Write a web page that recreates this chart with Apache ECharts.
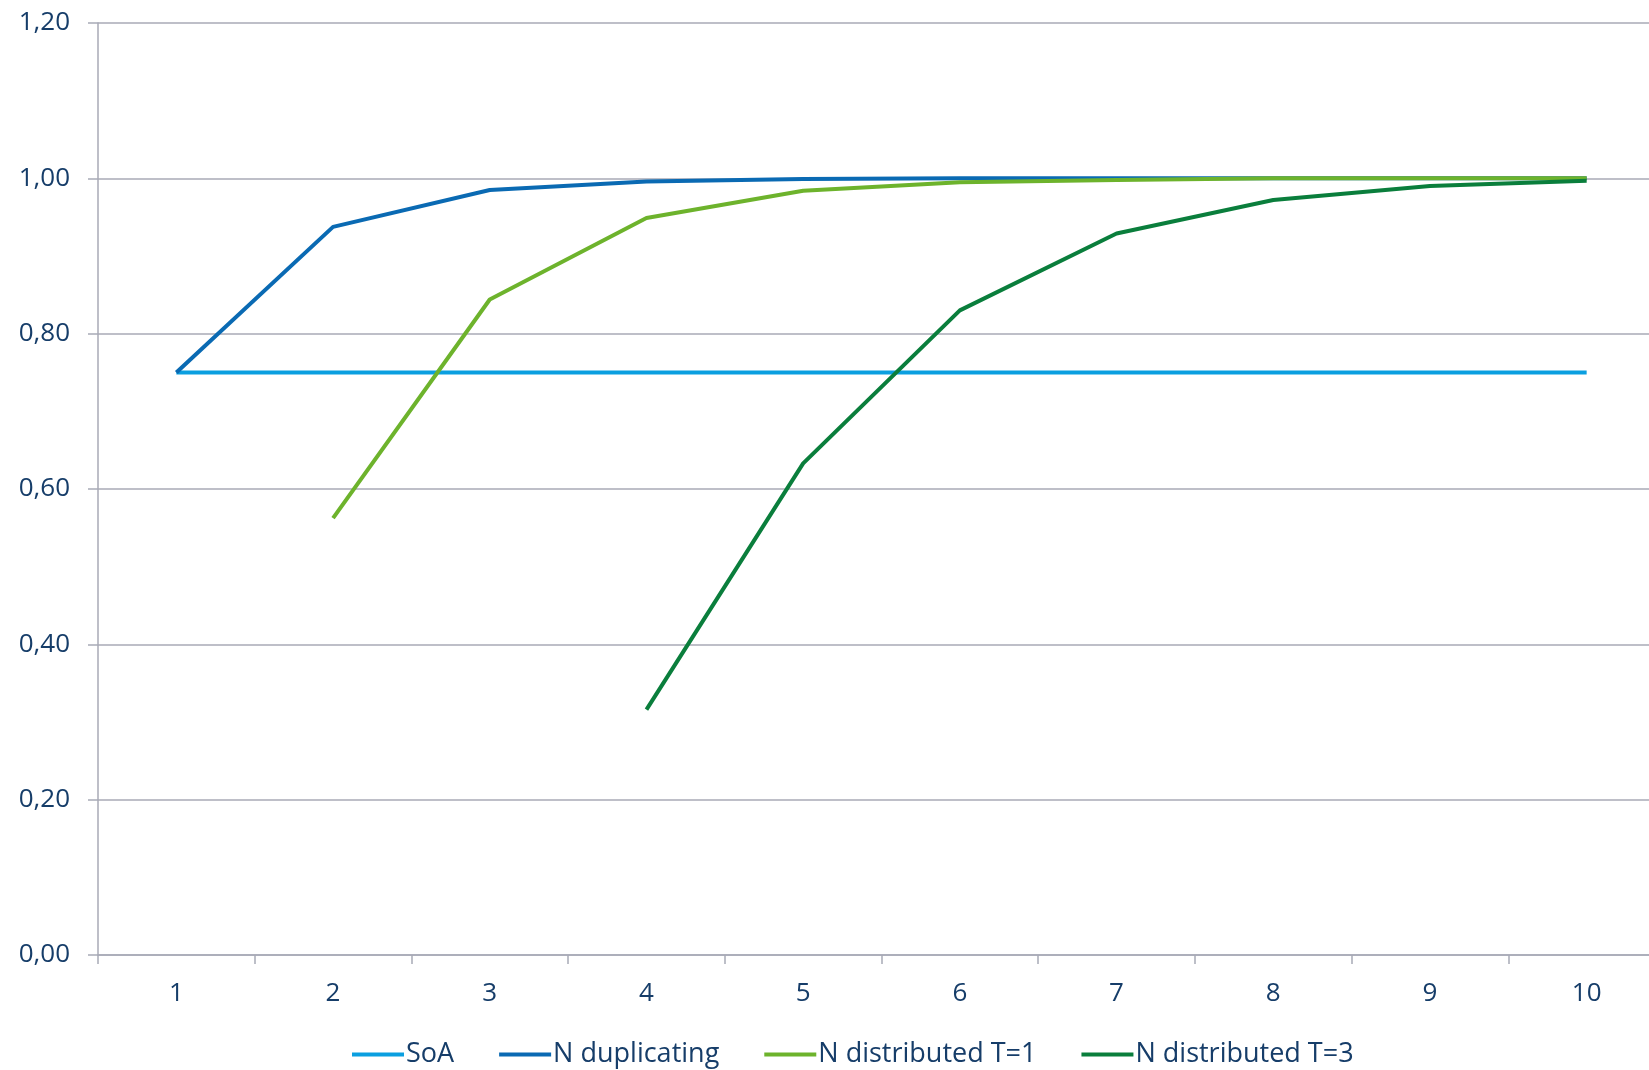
<!DOCTYPE html>
<html>
<head>
<meta charset="utf-8">
<title>Ratio by N</title>
<script src="https://cdn.jsdelivr.net/npm/echarts@6/dist/echarts.min.js"></script>
<style>
  html, body { margin: 0; padding: 0; background: #ffffff; }
  #chart { width: 1649px; height: 1070px; }
</style>
</head>
<body>
<div id="chart"></div>
<script>
// Category axis: number of nodes
const categories = ['1', '2', '3', '4', '5', '6', '7', '8', '9', '10'];

// Series values
const soa = [0.75, 0.75, 0.75, 0.75, 0.75, 0.75, 0.75, 0.75, 0.75, 0.75];
const nDuplicating = [0.75, 0.9375, 0.985, 0.996, 0.999, 1.0, 1.0, 1.0, 1.0, 1.0];
const nDistributedT1 = [null, 0.5625, 0.844, 0.949, 0.984, 0.995, 0.998, 1.0, 1.0, 1.0];
const nDistributedT3 = [null, null, null, 0.316, 0.633, 0.830, 0.929, 0.972, 0.990, 0.997];

const seriesNames = ['SoA', 'N duplicating', 'N distributed T=1', 'N distributed T=3'];
const seriesColors = ['#0B9FE0', '#0A6AB3', '#6DB32C', '#0A7E3C'];
const seriesData = [soa, nDuplicating, nDistributedT1, nDistributedT3];

const textColor = '#163D69';
const gridColor = '#A8AAB6';
const fontFamily = '"Open Sans", "Noto Sans", sans-serif';

const chart = echarts.init(document.getElementById('chart'), null, { renderer: 'canvas' });

chart.setOption({
  animation: false,
  backgroundColor: '#ffffff',
  // plot area runs past the right edge of the canvas
  grid: {
    left: 98, width: 1567, top: 23, height: 932,
    containLabel: false,
    outerBoundsMode: 'none'
  },
  legend: {
    data: seriesNames,
    left: 347,
    top: 1036,
    icon: 'rect',
    itemWidth: 52,
    itemHeight: 4,
    itemGap: 45,
    textStyle: { color: textColor, fontSize: 27, fontFamily: fontFamily, padding: [0, 0, 0, -3] }
  },
  xAxis: {
    type: 'category',
    data: categories,
    boundaryGap: true,
    axisLine: { show: true, lineStyle: { color: gridColor, width: 1.5 } },
    axisTick: { show: true, length: 9, lineStyle: { color: gridColor, width: 1.5 } },
    axisLabel: { color: textColor, fontSize: 26, fontFamily: fontFamily, margin: 26 },
    splitLine: { show: false }
  },
  yAxis: {
    type: 'value',
    min: 0,
    max: 1.2,
    interval: 0.2,
    axisLine: { show: true, lineStyle: { color: gridColor, width: 1.5 } },
    axisTick: { show: true, length: 10, lineStyle: { color: gridColor, width: 1.5 } },
    axisLabel: {
      color: textColor,
      fontSize: 26,
      fontFamily: fontFamily,
      margin: 28,
      formatter: v => v.toFixed(2).replace('.', ',')
    },
    splitLine: { show: true, lineStyle: { color: gridColor, width: 1.5 } }
  },
  series: seriesNames.map((name, i) => ({
    name: name,
    type: 'line',
    data: seriesData[i],
    symbol: 'none',
    showSymbol: false,
    color: seriesColors[i],
    lineStyle: { color: seriesColors[i], width: 4 },
    connectNulls: false
  }))
});
</script>
</body>
</html>
